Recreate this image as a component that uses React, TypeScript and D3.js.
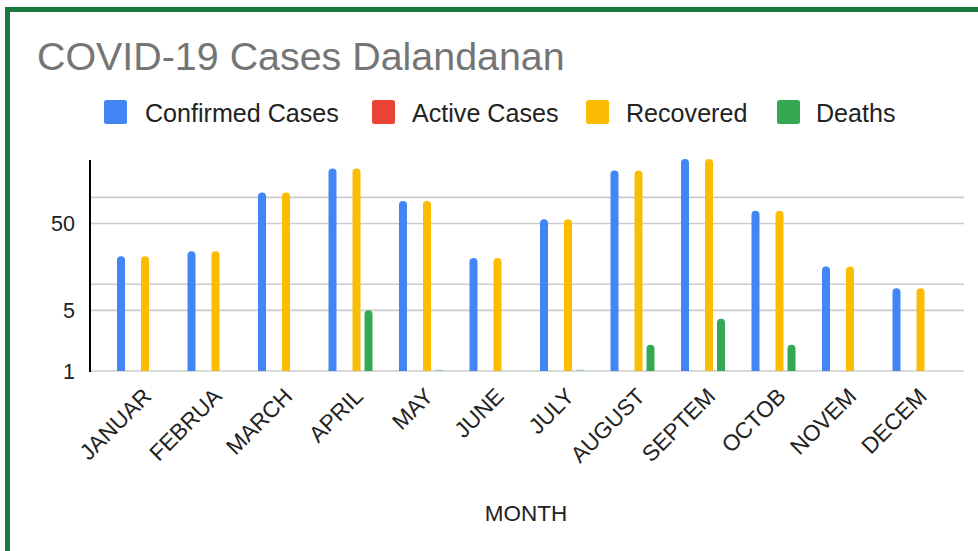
import React from "react";
import * as d3 from "d3";

const months = ["JANUAR", "FEBRUA", "MARCH", "APRIL", "MAY", "JUNE", "JULY", "AUGUST", "SEPTEM", "OCTOB", "NOVEM", "DECEM"];
const confirmed = [21, 24, 114, 215, 91, 20, 56, 204, 277, 70, 16, 9];
const active = [0, 0, 0, 0, 0, 0, 0, 0, 0, 0, 0, 0];
const recovered = [21, 24, 114, 215, 91, 20, 56, 204, 277, 70, 16, 9];
const deaths = [0, 0, 0, 5, 1, 0, 1, 2, 4, 2, 0, 0];
const seriesNames = ["Confirmed Cases", "Active Cases", "Recovered", "Deaths"];
const seriesColors = ["#4285f4", "#ea4335", "#fbbc04", "#34a853"];
const gridTicks = [1, 5, 10, 50, 100];
const labelTicks = [1, 5, 50];

const W = 978;
const H = 551;
const FONT = "'Liberation Sans', Arial, sans-serif";

export default function App() {
  const series = [confirmed, active, recovered, deaths];
  const left = 90, right = 964, top = 159, bottom = 371;
  const ymax = d3.max(confirmed) as number;
  const y = d3.scaleLog().domain([1, ymax]).range([bottom, top]);
  const x = d3.scaleBand<string>().domain(months).range([103.75, 949.75]).padding(0);
  const step = x.step();
  const barW = 8;
  const offsets = [-18, -6, 6, 18];

  const barPath = (cx: number, v: number) => {
    const yt = y(v);
    const h = bottom - yt;
    const r = Math.min(4, h);
    const x0 = cx - barW / 2, x1 = cx + barW / 2;
    return `M${x0},${bottom}V${yt + r}Q${x0},${yt} ${x0 + r},${yt}H${x1 - r}Q${x1},${yt} ${x1},${yt + r}V${bottom}Z`;
  };

  const legendItems = [
    { sx: 104, tx: 145 },
    { sx: 372, tx: 412 },
    { sx: 586, tx: 626 },
    { sx: 777, tx: 816 },
  ];

  return (
    <svg width={W} height={H} style={{ position: "absolute", left: 0, top: 0, background: "#fff" }} fontFamily={FONT}>
      <rect x={0} y={0} width={W} height={H} fill="#fff" />
      <line x1={7.5} y1={7} x2={7.5} y2={H} stroke="#1a7a3e" strokeWidth={5} />
      <line x1={5} y1={9.5} x2={W} y2={9.5} stroke="#1a7a3e" strokeWidth={5} />

      <text x={37} y={70} fontSize={39.4} fill="#757575">COVID-19 Cases Dalandanan</text>

      {seriesNames.map((n, i) => (
        <g key={n}>
          <rect x={legendItems[i].sx} y={100} width={23} height={24} rx={2.5} fill={seriesColors[i]} />
          <text x={legendItems[i].tx} y={121.5} fontSize={25.1} fill="#222">{n}</text>
        </g>
      ))}

      {gridTicks.map((t) => (
        <line key={t} x1={left} x2={right} y1={y(t)} y2={y(t)} stroke="#cccccc" strokeWidth={1.6} />
      ))}
      {labelTicks.map((t) => (
        <text key={t} x={75} y={y(t)} dy="0.36em" textAnchor="end" fontSize={21.5} fill="#222">{t}</text>
      ))}

      {months.map((m, mi) => {
        const cx = (x(m) as number) + step / 2;
        return (
          <g key={m}>
            {series.map((s, si) => {
              const v = s[mi];
              if (!v || v <= 0) return null;
              const bx = cx + offsets[si];
              if (v <= 1) {
                return <rect key={si} x={bx - barW / 2} y={bottom - 1.5} width={barW} height={1.5} fill={seriesColors[si]} opacity={0.3} />;
              }
              return <path key={si} d={barPath(bx, v)} fill={seriesColors[si]} />;
            })}
            <text
              transform={`translate(${cx + 8},${bottom + 21}) rotate(-45)`}
              textAnchor="end"
              dy="0.36em"
              fontSize={22.5}
              fill="#222"
            >
              {m}
            </text>
          </g>
        );
      })}

      <line x1={left} x2={left} y1={160} y2={bottom + 1} stroke="#000" strokeWidth={2} />

      <text x={526} y={520.5} textAnchor="middle" fontSize={22.5} fill="#222">MONTH</text>
    </svg>
  );
}
